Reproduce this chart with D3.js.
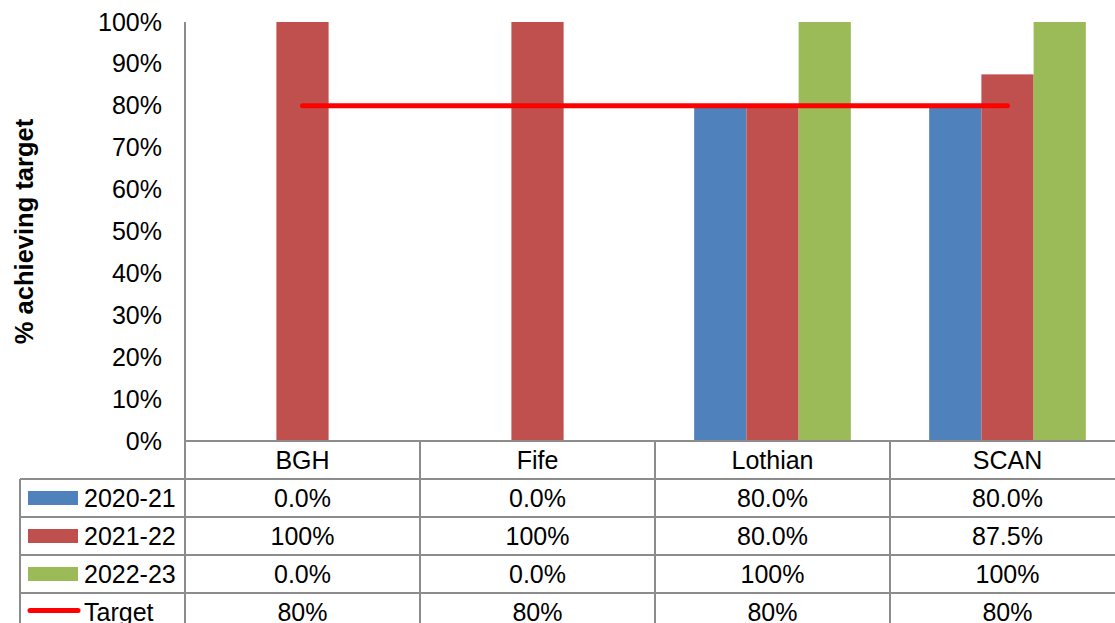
<!DOCTYPE html>
<html>
<head>
<meta charset="utf-8">
<script src="https://cdn.jsdelivr.net/npm/d3@7"></script>
<style>
  html, body { margin: 0; padding: 0; background: #fff; }
  svg { display: block; font-family: "Liberation Sans", Arial, sans-serif; }
</style>
</head>
<body>
<svg id="chart" width="1115" height="623"></svg>
<script>
const categories = ["BGH", "Fife", "Lothian", "SCAN"];
const seriesNames = ["2020-21", "2021-22", "2022-23"];
const values2020 = [0.0, 0.0, 0.80, 0.80];
const values2021 = [1.00, 1.00, 0.80, 0.875];
const values2022 = [0.0, 0.0, 1.00, 1.00];
const targetValues = [0.80, 0.80, 0.80, 0.80];
const tableLabels2020 = ["0.0%", "0.0%", "80.0%", "80.0%"];
const tableLabels2021 = ["100%", "100%", "80.0%", "87.5%"];
const tableLabels2022 = ["0.0%", "0.0%", "100%", "100%"];
const tableLabelsTarget = ["80%", "80%", "80%", "80%"];
const yTicks = [0, 0.1, 0.2, 0.3, 0.4, 0.5, 0.6, 0.7, 0.8, 0.9, 1.0];
const yTitle = "% achieving target";

const colors = { "2020-21": "#4F81BD", "2021-22": "#C0504D", "2022-23": "#9BBB59", "Target": "#FF0000" };
const seriesValues = { "2020-21": values2020, "2021-22": values2021, "2022-23": values2022 };

const svg = d3.select("#chart");
const W = 1115, H = 623;
const plotLeft = 185, plotRight = 1125, plotTop = 22, plotBottom = 441;
const rowH = 38;
const tableLeft = 20;
const gridColor = "#8c8c8c";
const fontSize = 25;

const x = d3.scaleBand().domain(categories).range([plotLeft, plotRight]).padding(0);
const xInner = d3.scaleBand().domain(seriesNames).range([0, x.bandwidth()]).paddingInner(0).paddingOuter(0.75);
const y = d3.scaleLinear().domain([0, 1]).range([plotBottom, plotTop]);

// Bars
const barData = [];
seriesNames.forEach(s => categories.forEach((c, i) => barData.push({ s, c, v: seriesValues[s][i] })));
svg.append("g").selectAll("rect").data(barData).join("rect")
  .attr("x", d => x(d.c) + xInner(d.s))
  .attr("y", d => y(d.v))
  .attr("width", xInner.bandwidth())
  .attr("height", d => y(0) - y(d.v))
  .attr("fill", d => colors[d.s]);

// Y axis
const yAxis = d3.axisLeft(y).tickValues(yTicks).tickSize(0).tickPadding(23)
  .tickFormat(d3.format(".0%"));
const yg = svg.append("g").attr("transform", `translate(${plotLeft},0)`).call(yAxis);
yg.select(".domain").remove();
yg.selectAll("text").attr("font-size", fontSize).attr("fill", "#000")
  .style("font-family", '"Liberation Sans", Arial, sans-serif');

// Y title
svg.append("text")
  .attr("transform", `translate(33, ${(plotTop + plotBottom) / 2}) rotate(-90)`)
  .attr("text-anchor", "middle")
  .attr("font-size", 25.5)
  .attr("font-weight", "bold")
  .text(yTitle);

// Table rows
const rows = [
  { name: "2020-21", labels: tableLabels2020, type: "bar" },
  { name: "2021-22", labels: tableLabels2021, type: "bar" },
  { name: "2022-23", labels: tableLabels2022, type: "bar" },
  { name: "Target", labels: tableLabelsTarget, type: "line" }
];
const grid = svg.append("g").attr("stroke", gridColor).attr("stroke-width", 2).attr("fill", "none");
grid.append("line").attr("x1", plotLeft).attr("x2", plotLeft).attr("y1", plotTop).attr("y2", H + 5);
categories.forEach(c => {
  const xe = x(c) + x.bandwidth();
  grid.append("line").attr("x1", xe).attr("x2", xe).attr("y1", plotBottom).attr("y2", H + 5);
});
grid.append("line").attr("x1", plotLeft).attr("x2", W + 5).attr("y1", plotBottom).attr("y2", plotBottom);
rows.forEach((r, i) => {
  const yy = plotBottom + rowH * (i + 1);
  grid.append("line").attr("x1", tableLeft).attr("x2", W + 5).attr("y1", yy).attr("y2", yy);
});
grid.append("line").attr("x1", tableLeft).attr("x2", tableLeft).attr("y1", plotBottom + rowH).attr("y2", H + 5);

// header labels
svg.append("g").selectAll("text").data(categories).join("text")
  .attr("x", d => x(d) + x.bandwidth() / 2)
  .attr("y", plotBottom + rowH / 2)
  .attr("dy", "0.36em")
  .attr("text-anchor", "middle")
  .attr("font-size", fontSize)
  .text(d => d);

// data rows
rows.forEach((r, i) => {
  const cy = plotBottom + rowH * (i + 1) + rowH / 2;
  const g = svg.append("g");
  if (r.type === "bar") {
    g.append("rect").attr("x", 28).attr("y", cy - 7).attr("width", 50).attr("height", 14).attr("fill", colors[r.name]);
  } else {
    g.append("line").attr("x1", 30).attr("x2", 78).attr("y1", cy - 1.5).attr("y2", cy - 1.5)
      .attr("stroke", colors[r.name]).attr("stroke-width", 5).attr("stroke-linecap", "round");
  }
  g.append("text").attr("x", 84).attr("y", cy).attr("dy", "0.36em").attr("font-size", fontSize).text(r.name);
  g.selectAll("text.v").data(r.labels).join("text").attr("class", "v")
    .attr("x", (d, j) => x(categories[j]) + x.bandwidth() / 2)
    .attr("y", cy).attr("dy", "0.36em")
    .attr("text-anchor", "middle")
    .attr("font-size", fontSize)
    .text(d => d);
});

// Target line
const line = d3.line().x((d, i) => x(categories[i]) + x.bandwidth() / 2).y(d => y(d));
svg.append("path").datum(targetValues)
  .attr("d", line)
  .attr("fill", "none")
  .attr("stroke", colors["Target"])
  .attr("stroke-width", 5)
  .attr("stroke-linecap", "round");
</script>
</body>
</html>
